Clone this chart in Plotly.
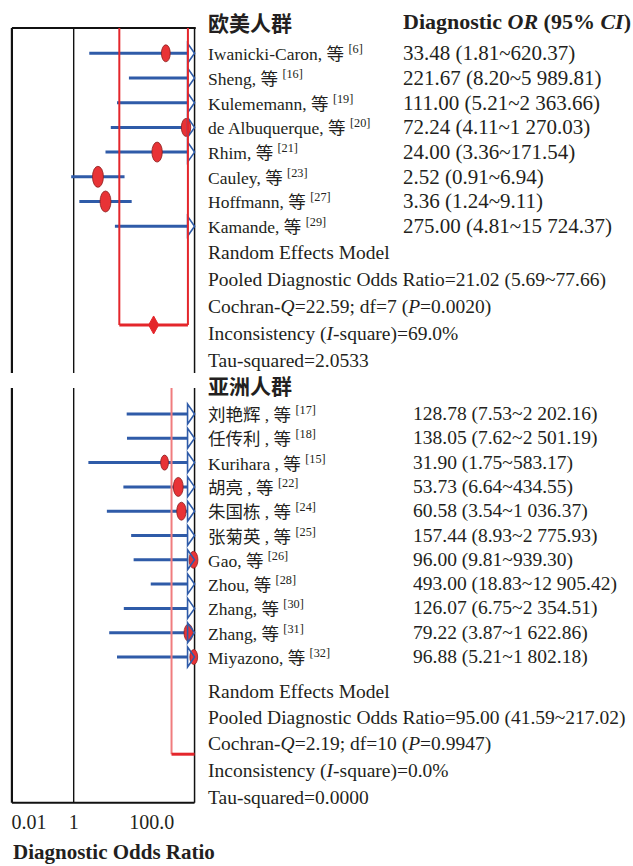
import numpy as np
import plotly.graph_objects as go

# ---- 欧美人群 ----
EU_STUDY = ["Iwanicki-Caron", "Sheng", "Kulememann", "de Albuquerque",
            "Rhim", "Cauley", "Hoffmann", "Kamande"]
EU_REF = [6, 16, 19, 20, 21, 23, 27, 29]
EU_OR = [33.48, 221.67, 111.00, 72.24, 24.00, 2.52, 3.36, 275.00]
EU_LO = [1.81, 8.20, 5.21, 4.11, 3.36, 0.91, 1.24, 4.81]
EU_HI = [620.37, 5989.81, 2363.66, 1270.03, 171.54, 6.94, 9.11, 15724.37]
EU_POOLED = [21.02, 5.69, 77.66]          # DOR, lower, upper
EU_Q, EU_DF, EU_P, EU_I2, EU_TAU2 = 22.59, 7, 0.0020, 69.0, 2.0533

# ---- 亚洲人群 ----
AS_STUDY = ["刘艳辉 ", "任传利 ", "Kurihara ", "胡亮 ", "朱国栋 ", "张菊英 ",
            "Gao", "Zhou", "Zhang", "Zhang", "Miyazono"]
AS_REF = [17, 18, 15, 22, 24, 25, 26, 28, 30, 31, 32]
AS_OR = [128.78, 138.05, 31.90, 53.73, 60.58, 157.44, 96.00, 493.00,
         126.07, 79.22, 96.88]
AS_LO = [7.53, 7.62, 1.75, 6.64, 3.54, 8.93, 9.81, 18.83, 6.75, 3.87, 5.21]
AS_HI = [2202.16, 2501.19, 583.17, 434.55, 1036.37, 2775.93, 939.30,
         12905.42, 2354.51, 1622.86, 1802.18]
AS_POOLED = [95.00, 41.59, 217.02]
AS_Q, AS_DF, AS_P, AS_I2, AS_TAU2 = 2.19, 10, 0.9947, 0.0, 0.0

TICK_LABELS = ["0.01", "1", "100.0"]

# ---- styling ----
EU_DOT_H = [17, 18, 18, 18, 20, 21, 21, 18]           # marker heights (px)
AS_DOT_H = [17, 17, 15, 19, 18, 17, 17, 17, 17, 17, 15]
BLUE = "#2F5BA8"
RED = "#E4262B"
DOT_FILL = "#E83336"
DOT_EDGE = "#8A1E1E"
PINK = "#F07C7E"
BLACK = "#111111"
TXT = "#231F20"
SERIF = "Liberation Serif, 'Noto Sans CJK SC', serif"
SANS_CJK = "'Noto Sans CJK SC', sans-serif"

AX_MIN, AX_MAX = 0.095, 100.0      # drawn extent of the forest axis
X_RANGE = [-1.12, 2.09]            # log10 units
ARROW_LEN = 0.11                   # log10 units taken by the arrow head


def fmt(v):
    return f"{v:,.2f}".replace(",", " ")


panels = [
    dict(study=EU_STUDY, ref=EU_REF, or_=EU_OR, lo=EU_LO, hi=EU_HI,
         dot_h=EU_DOT_H, pooled=EU_POOLED,
         stats=(EU_Q, EU_DF, EU_P, EU_I2, EU_TAU2),
         xa="x", ya="y", yrange=[13.146, -1.227], frame=(-1.024, 12.94),
         closed=False, val_x=2.036, val_size=21, txt_off=0.08,
         txt_step=1.09, vcol=RED),
    dict(study=AS_STUDY, ref=AS_REF, or_=AS_OR, lo=AS_LO, hi=AS_HI,
         dot_h=AS_DOT_H, pooled=AS_POOLED,
         stats=(AS_Q, AS_DF, AS_P, AS_I2, AS_TAU2),
         xa="x2", ya="y2", yrange=[16.214, -1.276], frame=(-1.07, 16.0),
         closed=True, val_x=2.0876, val_size=19.5, txt_off=0.4,
         txt_step=1.1, vcol=PINK),
]

fig = go.Figure()
shapes, annotations = [], []
NAME_X = 1.031
lmin, lmax = np.log10(AX_MIN), np.log10(AX_MAX)


def text(x, y, s, yref, size, family=SERIF, xref="paper"):
    annotations.append(dict(x=x, y=y, xref=xref, yref=yref, text=s,
                            showarrow=False, xanchor="left",
                            yanchor="middle",
                            font=dict(family=family, size=size, color=TXT)))


for p in panels:
    xa, ya = p["xa"], p["ya"]
    n = len(p["or_"])
    top, bot = p["frame"]

    # frame and reference line at OR = 1
    for x0, y0, x1, y1, w in [
        (lmin, top, lmin, bot, 2.2),
        (lmax, top, lmax, bot, 1.5),
        (0.0, top, 0.0, bot, 1.4),
    ]:
        shapes.append(dict(type="line", xref=xa, yref=ya, x0=x0, y0=y0,
                           x1=x1, y1=y1, layer="below",
                           line=dict(color=BLACK, width=w)))
    if not p["closed"]:
        shapes.append(dict(type="line", xref=xa, yref=ya, x0=lmin, y0=top,
                           x1=lmax + 0.02, y1=top, layer="below",
                           line=dict(color=BLACK, width=2)))
    else:
        shapes.append(dict(type="line", xref=xa, yref=ya, x0=lmin, y0=bot,
                           x1=lmax, y1=bot, layer="below",
                           line=dict(color=BLACK, width=2)))

    # confidence intervals
    xs, ys = [], []
    for i in range(n):
        lo = np.log10(max(p["lo"][i], AX_MIN))
        clipped = p["hi"][i] > AX_MAX
        hi = lmax - ARROW_LEN if clipped else np.log10(p["hi"][i])
        xs += [lo, hi, None]
        ys += [i, i, None]
    fig.add_trace(go.Scatter(x=xs, y=ys, mode="lines", xaxis=xa, yaxis=ya,
                             line=dict(color=BLUE, width=3),
                             hoverinfo="skip", showlegend=False))

    # point estimates (only inside the axis extent)
    for i in range(n):
        if p["or_"][i] <= AX_MAX:
            h = p["dot_h"][i]
            w = h * 0.52
            shapes.append(dict(type="circle", xref=xa, yref=ya,
                               xsizemode="pixel", ysizemode="pixel",
                               xanchor=np.log10(p["or_"][i]), yanchor=i,
                               x0=-w / 2, x1=w / 2, y0=-h / 2, y1=h / 2,
                               fillcolor=DOT_FILL,
                               line=dict(color=DOT_EDGE, width=0.8)))
    # open arrow heads for intervals running past the axis
    for i in range(n):
        if p["hi"][i] > AX_MAX:
            shapes.append(dict(type="path", xref=xa, yref=ya,
                               xsizemode="pixel", ysizemode="pixel",
                               xanchor=lmax, yanchor=i,
                               path="M -7,-10 L 0,0 L -7,10 Z",
                               fillcolor="rgba(0,0,0,0)",
                               line=dict(color=BLUE, width=1.6)))

    # pooled estimate
    por, plo, phi = p["pooled"]
    prow = n + 3
    llo = np.log10(plo)
    lhi = min(np.log10(phi), lmax)
    shapes.append(dict(type="line", xref=xa, yref=ya, x0=llo, x1=llo,
                       y0=top, y1=prow, line=dict(color=p["vcol"], width=2)))
    if phi <= AX_MAX:
        shapes.append(dict(type="line", xref=xa, yref=ya, x0=lhi, x1=lhi,
                           y0=top, y1=prow, line=dict(color=RED, width=2)))
    shapes.append(dict(type="line", xref=xa, yref=ya, x0=llo, x1=lhi,
                       y0=prow, y1=prow, line=dict(color=RED, width=3)))
    if phi <= AX_MAX:
        shapes.append(dict(type="path", xref=xa, yref=ya,
                           xsizemode="pixel", ysizemode="pixel",
                           xanchor=np.log10(por), yanchor=prow,
                           path="M -5,0 L 0,9 L 5,0 L 0,-9 Z",
                           fillcolor=RED, line=dict(color=RED, width=1)))

    # study labels and values
    for i in range(n):
        text(NAME_X, i, f"{p['study'][i]}, 等 <sup>[{p['ref'][i]}]</sup>",
             ya, 17.5)
        text(p["val_x"], i,
             f"{fmt(p['or_'][i])} ({fmt(p['lo'][i])}~{fmt(p['hi'][i])})",
             ya, p["val_size"])

    q, df, pv, i2, tau2 = p["stats"]
    summary = [
        "Random Effects Model",
        f"Pooled Diagnostic Odds Ratio={fmt(por)} ({fmt(plo)}~{fmt(phi)})",
        f"Cochran-<i>Q</i>={q:.2f}; df={df} (<i>P</i>={pv:.4f})",
        f"Inconsistency (<i>I</i>-square)={i2:.1f}%",
        f"Tau-squared={tau2:.4f}",
    ]
    for k, s in enumerate(summary):
        text(NAME_X, n + p["txt_off"] + p["txt_step"] * k, s, ya, 19.5)

# group headers and column header
text(NAME_X, 1.0013, "<b>欧美人群</b>", "paper", 21, SANS_CJK)
text(NAME_X, 0.5389, "<b>亚洲人群</b>", "paper", 21, SANS_CJK)
text(2.036, 1.0013, "<b>Diagnostic <i>OR</i> (95% <i>CI</i>)</b>",
     "paper", 22)
text(0.026, -0.056, "<b>Diagnostic Odds Ratio</b>", "paper", 21)

fig.update_layout(
    width=633, height=866,
    margin=dict(l=6, r=433, t=23, b=58),
    paper_bgcolor="white", plot_bgcolor="white",
    showlegend=False,
    shapes=shapes, annotations=annotations,
    xaxis=dict(domain=[0, 1], range=X_RANGE, anchor="y", visible=False),
    xaxis2=dict(domain=[0, 1], range=X_RANGE, anchor="y2",
                showgrid=False, zeroline=False, showline=False, ticks="",
                tickvals=[-0.74, 0.0, 1.29], ticktext=TICK_LABELS,
                tickfont=dict(family=SERIF, size=20, color=TXT)),
    yaxis=dict(domain=[0.5478, 1], range=panels[0]["yrange"], visible=False),
    yaxis2=dict(domain=[0, 0.5414], range=panels[1]["yrange"],
                visible=False),
)

fig.write_html("out.html")
